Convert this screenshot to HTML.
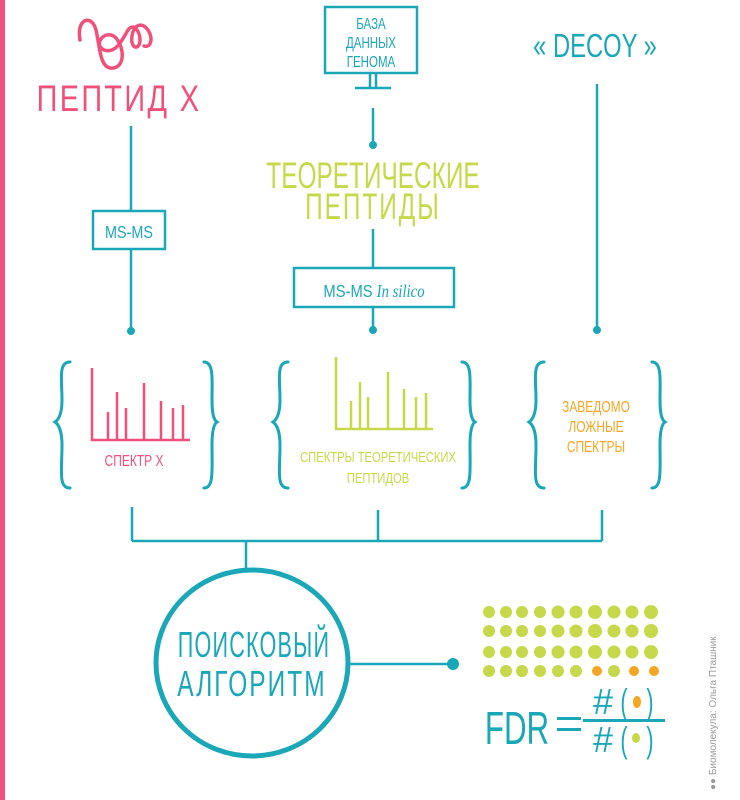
<!DOCTYPE html>
<html><head><meta charset="utf-8"><style>
html,body{margin:0;padding:0;background:#fff;}
svg{display:block;}
text{font-family:"Liberation Sans Narrow","Liberation Sans",sans-serif;}
</style></head><body>
<svg width="740" height="800" viewBox="0 0 740 800" xmlns="http://www.w3.org/2000/svg">
<rect x="0" y="0" width="5" height="800" fill="#f2507f"/>
<g fill="none" stroke="#f0507a" stroke-width="3.5" stroke-linecap="round">
<path d="M80 40 C76 18,92 14,96 30 C100 48,100 66,110 68 C124 70,126 50,116 38 C106 28,92 44,104 50 C116 54,122 40,128 30 C134 22,140 32,140 40 C140 50,130 50,132 36 C134 24,142 22,148 30 C154 40,150 48,144 46"/>
</g>
<text x="119" y="111" font-size="37" fill="#f0507a" text-anchor="middle" transform="translate(119 0) scale(0.78 1) translate(-119 0)" letter-spacing="3">ПЕПТИД X</text>
<g stroke="#1aa7b8" stroke-width="2.5" fill="none">
<line x1="131" y1="126" x2="131" y2="211"/>
<rect x="93" y="211" width="72" height="38" fill="#fff"/>
<line x1="131" y1="249" x2="131" y2="330"/>
<rect x="325" y="7" width="92" height="66" fill="#fff"/>
<line x1="370" y1="73" x2="370" y2="88"/><line x1="376" y1="73" x2="376" y2="88"/>
<line x1="355" y1="88" x2="391" y2="88"/>
<line x1="373" y1="108" x2="373" y2="145"/>
<line x1="373" y1="229" x2="373" y2="268"/>
<rect x="294" y="268" width="160" height="39" fill="#fff"/>
<line x1="373" y1="307" x2="373" y2="330"/>
<line x1="597" y1="84" x2="597" y2="330"/>
<line x1="132" y1="507" x2="132" y2="541"/>
<line x1="378" y1="510" x2="378" y2="541"/>
<line x1="602" y1="510" x2="602" y2="541"/>
<line x1="132" y1="541" x2="602" y2="541"/>
<line x1="246" y1="541" x2="246" y2="570"/>
<ellipse cx="252" cy="663" rx="96" ry="93" stroke-width="5"/>
<line x1="348" y1="664" x2="452" y2="664"/>
</g>
<g fill="#1aa7b8">
<circle cx="131" cy="331" r="4"/><circle cx="373" cy="145" r="4"/><circle cx="373" cy="330" r="4"/><circle cx="597" cy="330" r="4"/><circle cx="453" cy="664" r="6"/>
</g>
<g fill="#1aa7b8" text-anchor="middle">
<text x="129" y="238" font-size="18" transform="translate(129 0) scale(0.8 1) translate(-129 0)">MS-MS</text>
<text x="371" y="29" font-size="16" transform="translate(371 0) scale(0.72 1) translate(-371 0)">БАЗА</text>
<text x="371" y="48" font-size="16" transform="translate(371 0) scale(0.72 1) translate(-371 0)">ДАННЫХ</text>
<text x="371" y="67" font-size="16" transform="translate(371 0) scale(0.72 1) translate(-371 0)">ГЕНОМА</text>
<text x="595" y="57" font-size="33" transform="translate(595 0) scale(0.72 1) translate(-595 0)">« DECOY »</text>
<text x="374" y="297" font-size="18" transform="translate(374 0) scale(0.82 1) translate(-374 0)">MS-MS  <tspan font-style="italic" font-family="Liberation Serif">In  silico</tspan></text>
<text x="254" y="657" font-size="36" transform="translate(254 0) scale(0.6 1) translate(-254 0)" letter-spacing="2">ПОИСКОВЫЙ</text>
<text x="252" y="696" font-size="36" transform="translate(252 0) scale(0.68 1) translate(-252 0)" letter-spacing="3">АЛГОРИТМ</text>
</g>
<g fill="#c5d94a" text-anchor="middle">
<text x="373" y="188" font-size="37" transform="translate(373 0) scale(0.66 1) translate(-373 0)">ТЕОРЕТИЧЕСКИЕ</text>
<text x="373" y="219" font-size="37" transform="translate(373 0) scale(0.66 1) translate(-373 0)" letter-spacing="3">ПЕПТИДЫ</text>
<text x="378" y="462" font-size="15" transform="translate(378 0) scale(0.75 1) translate(-378 0)">СПЕКТРЫ ТЕОРЕТИЧЕСКИХ</text>
<text x="378" y="483" font-size="15" transform="translate(378 0) scale(0.75 1) translate(-378 0)">ПЕПТИДОВ</text>
</g>
<text x="134" y="466" font-size="16" fill="#f0507a" text-anchor="middle" transform="translate(134 0) scale(0.75 1) translate(-134 0)">СПЕКТР  X</text>
<g fill="#f5a623" text-anchor="middle" font-size="16">
<text x="596" y="412" transform="translate(596 0) scale(0.75 1) translate(-596 0)">ЗАВЕДОМО</text>
<text x="596" y="432" transform="translate(596 0) scale(0.75 1) translate(-596 0)">ЛОЖНЫЕ</text>
<text x="596" y="452" transform="translate(596 0) scale(0.75 1) translate(-596 0)">СПЕКТРЫ</text>
</g>
<g stroke="#f0507a" stroke-width="2.5" fill="none">
<path d="M92 368 V440 H190"/>
<path d="M108 440V412M117 440V392M126 440V408M144 440V383M161 440V401M173 440V408M183 440V405"/>
</g>
<g stroke="#c5d94a" stroke-width="2.5" fill="none">
<path d="M336 357 V429 H433"/>
<path d="M351 429V401M360 429V382M368 429V397M388 429V372M404 429V389M416 429V397M426 429V393"/>
</g>
<g stroke="#1aa7b8" stroke-width="3" fill="none" stroke-linecap="round">
<path d="M70 362 C58 362,62 380,62 400 C62 415,58 420,55 422 C58 424,62 430,62 445 C62 470,58 488,70 488"/>
<path d="M204 362 C214 362,212 380,212 400 C212 415,214 420,217 422 C214 424,212 430,212 445 C212 470,214 488,204 488"/>
<path d="M288 362 C276 362,280 380,280 400 C280 415,276 420,273 422 C276 424,280 430,280 445 C280 470,276 488,288 488"/>
<path d="M462 362 C472 362,470 380,470 400 C470 415,472 420,475 422 C472 424,470 430,470 445 C470 470,472 488,462 488"/>
<path d="M544 362 C532 362,536 380,536 400 C536 415,532 420,529 422 C532 424,536 430,536 445 C536 470,532 488,544 488"/>
<path d="M652 362 C662 362,660 380,660 400 C660 415,662 420,665 422 C662 424,660 430,660 445 C660 470,662 488,652 488"/>
</g>
<g fill="#c5d94a">
<g id="row"><circle cx="489" cy="612" r="6"/><circle cx="506" cy="612" r="6"/><circle cx="522" cy="612" r="6"/><circle cx="540" cy="612" r="6"/><circle cx="558" cy="612" r="6.5"/><circle cx="576" cy="612" r="6.5"/><circle cx="595" cy="612" r="7"/><circle cx="614" cy="612" r="6.5"/><circle cx="632" cy="612" r="6.5"/><circle cx="651" cy="612" r="7"/></g>
<use href="#row" y="19"/>
<use href="#row" y="40"/>
<circle cx="489" cy="671" r="6"/><circle cx="506" cy="671" r="6"/><circle cx="522" cy="671" r="6"/><circle cx="540" cy="671" r="6"/><circle cx="558" cy="671" r="6"/><circle cx="576" cy="671" r="6"/><circle cx="614" cy="671" r="6"/>
<ellipse cx="636" cy="738" rx="4" ry="5"/>
</g>
<g fill="#f5a623"><circle cx="597" cy="671" r="5"/><circle cx="634" cy="671" r="5"/><circle cx="654" cy="671" r="5"/><ellipse cx="637" cy="702" rx="4" ry="6"/></g>
<g fill="#1aa7b8">
<text x="517" y="744" font-size="46" text-anchor="middle" transform="translate(517 0) scale(0.68 1) translate(-517 0)">FDR</text>
<rect x="557" y="717" width="24" height="3"/>
<rect x="557" y="728" width="24" height="3"/>
<g font-size="36" text-anchor="middle">
<text x="603" y="714">#</text><text x="624" y="714" transform="translate(624 0) scale(0.6 1) translate(-624 0)">(</text><text x="650" y="714" transform="translate(650 0) scale(0.6 1) translate(-650 0)">)</text>
<text x="603" y="752">#</text><text x="624" y="752" transform="translate(624 0) scale(0.6 1) translate(-624 0)">(</text><text x="650" y="752" transform="translate(650 0) scale(0.6 1) translate(-650 0)">)</text>
</g>
<rect x="583" y="719" width="82" height="3"/>
</g>
<text x="0" y="0" font-size="10" fill="#9a9a9a" transform="translate(716 790) rotate(-90)">●● Биомолекула: Ольга Пташник</text>
</svg>
</body></html>
